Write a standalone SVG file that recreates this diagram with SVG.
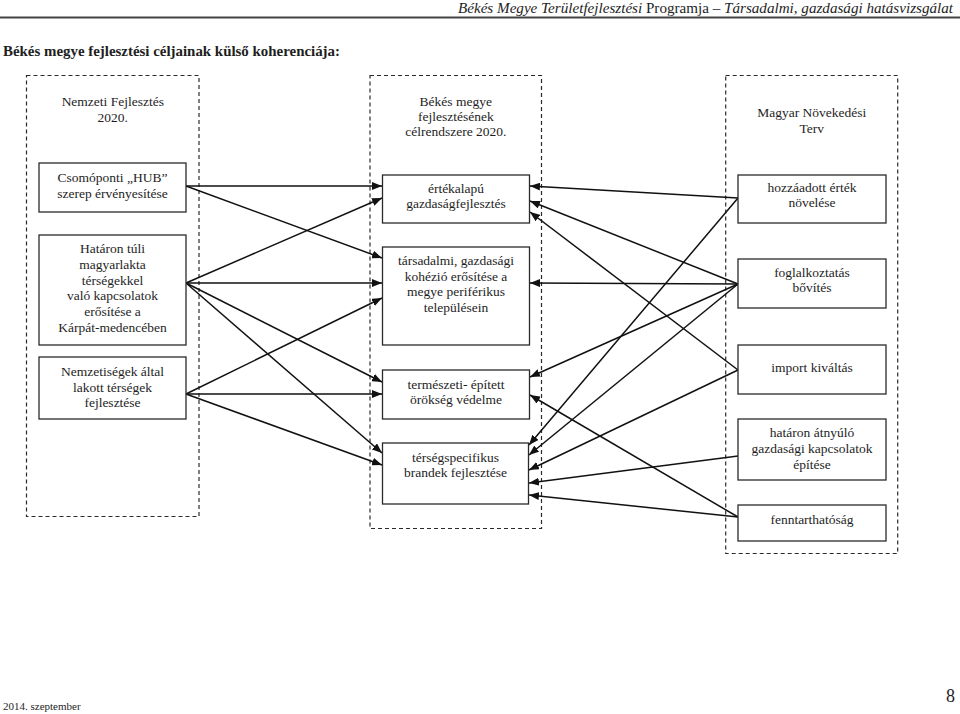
<svg xmlns="http://www.w3.org/2000/svg" width="960" height="714" viewBox="0 0 960 714" font-family="Liberation Serif, serif">
<defs>
<style>
.t{font-size:13.5px;text-anchor:middle;fill:#1e1e1e;}
.box{fill:#fff;stroke:#2a2a2a;stroke-width:1.3;}
.cont{fill:none;stroke:#2a2a2a;stroke-width:1.2;stroke-dasharray:4 3;}
.c line{stroke:#111;stroke-width:1.5;}
.c .a{marker-end:url(#arr);}
</style>
<marker id="arr" markerUnits="userSpaceOnUse" markerWidth="10" markerHeight="8" refX="10" refY="4" orient="auto">
<path d="M0,0 L10,4 L0,8 z" fill="#111"/>
</marker>
</defs>
<rect width="960" height="714" fill="#fff"/>

<g id="header" fill="#1e1e1e">
<text x="458" y="13" font-size="14.5" textLength="495" lengthAdjust="spacingAndGlyphs"><tspan font-style="italic">Békés Megye Területfejlesztési</tspan> Programja <tspan font-style="italic">– Társadalmi, gazdasági hatásvizsgálat</tspan></text>
<line x1="0" y1="17.5" x2="960" y2="17.5" stroke="#444" stroke-width="1.8"/>
<text x="3" y="56" font-size="14" font-weight="bold" textLength="337" lengthAdjust="spacingAndGlyphs">Békés megye fejlesztési céljainak külső koherenciája:</text>
</g>

<g id="containers">
<g id="cont-nfs"><rect class="cont" x="26.5" y="75.5" width="172.5" height="441"/>
<text class="t" x="112.8" y="106">Nemzeti Fejlesztés</text><text class="t" x="112.8" y="122">2020.</text></g>
<g id="cont-bekes"><rect class="cont" x="370" y="75.5" width="171.5" height="453"/>
<text class="t" x="455.8" y="105.5">Békés megye</text><text class="t" x="455.8" y="120.5">fejlesztésének</text><text class="t" x="455.8" y="135.5">célrendszere 2020.</text></g>
<g id="cont-mnt"><rect class="cont" x="725.7" y="75.5" width="172" height="478"/>
<text class="t" x="811.7" y="117">Magyar Növekedési</text><text class="t" x="811.7" y="133">Terv</text></g>
</g>

<g class="c" id="connectors">
<line class="a" x1="186" y1="186" x2="382" y2="186"/>
<line class="a" x1="186" y1="186" x2="382" y2="258"/>
<line class="a" x1="186" y1="283" x2="382" y2="198"/>
<line class="a" x1="186" y1="283" x2="382" y2="283"/>
<line class="a" x1="186" y1="283" x2="382" y2="382"/>
<line class="a" x1="186" y1="283" x2="382" y2="453"/>
<line class="a" x1="186" y1="394" x2="382" y2="298"/>
<line class="a" x1="186" y1="394" x2="382" y2="394"/>
<line class="a" x1="186" y1="394" x2="382" y2="465"/>
<line class="a" x1="738" y1="198" x2="530" y2="186"/>
<line class="a" x1="738" y1="198" x2="529" y2="445"/>
<line class="a" x1="738" y1="284" x2="530" y2="201"/>
<line class="a" x1="738" y1="284" x2="530" y2="283"/>
<line class="a" x1="738" y1="284" x2="530" y2="377"/>
<line class="a" x1="738" y1="284" x2="529" y2="455"/>
<line class="a" x1="738" y1="370" x2="530" y2="212"/>
<line class="a" x1="738" y1="370" x2="529" y2="470"/>
<line class="a" x1="738" y1="456" x2="529" y2="483"/>
<line class="a" x1="738" y1="517" x2="530" y2="395"/>
<line class="a" x1="738" y1="517" x2="529" y2="495"/>
</g>

<g id="n-hub"><rect class="box" x="39" y="163" width="147" height="49"/>
<text class="t" x="112.5" y="182">Csomóponti „HUB”</text><text class="t" x="112.5" y="197.5">szerep érvényesítése</text></g>
<g id="n-hataron"><rect class="box" x="39" y="235" width="147" height="110"/>
<text class="t" x="112.5" y="253">Határon túli</text><text class="t" x="112.5" y="268.8">magyarlakta</text><text class="t" x="112.5" y="284.6">térségekkel</text><text class="t" x="112.5" y="300.4">való kapcsolatok</text><text class="t" x="112.5" y="316.2">erősítése a</text><text class="t" x="112.5" y="332">Kárpát-medencében</text></g>
<g id="n-nemzet"><rect class="box" x="39" y="357" width="147" height="62"/>
<text class="t" x="112.5" y="376">Nemzetiségek által</text><text class="t" x="112.5" y="391.5">lakott térségek</text><text class="t" x="112.5" y="407">fejlesztése</text></g>

<g id="n-ertek"><rect class="box" x="382.5" y="175" width="147" height="48"/>
<text class="t" x="456" y="193">értékalapú</text><text class="t" x="456" y="208">gazdaságfejlesztés</text></g>
<g id="n-tarsad"><rect class="box" x="382.5" y="247" width="147" height="98"/>
<text class="t" x="456" y="265">társadalmi, gazdasági</text><text class="t" x="456" y="280.5">kohézió erősítése a</text><text class="t" x="456" y="296">megye periférikus</text><text class="t" x="456" y="311.5">településein</text></g>
<g id="n-termesz"><rect class="box" x="382.5" y="370" width="147" height="49"/>
<text class="t" x="456" y="388.5">természeti- épített</text><text class="t" x="456" y="404">örökség védelme</text></g>
<g id="n-tersegs"><rect class="box" x="382.5" y="443" width="146" height="61"/>
<text class="t" x="455.5" y="462">térségspecifikus</text><text class="t" x="455.5" y="477">brandek fejlesztése</text></g>

<g id="n-hozza"><rect class="box" x="738" y="175" width="148" height="48"/>
<text class="t" x="812" y="192">hozzáadott érték</text><text class="t" x="812" y="207">növelése</text></g>
<g id="n-fogl"><rect class="box" x="738" y="259" width="148" height="49"/>
<text class="t" x="812" y="277">foglalkoztatás</text><text class="t" x="812" y="292">bővítés</text></g>
<g id="n-import"><rect class="box" x="738" y="345" width="148" height="49"/>
<text class="t" x="812" y="372">import kiváltás</text></g>
<g id="n-hatarat"><rect class="box" x="738" y="419" width="148" height="61"/>
<text class="t" x="812" y="437">határon átnyúló</text><text class="t" x="812" y="453">gazdasági kapcsolatok</text><text class="t" x="812" y="468.5">építése</text></g>
<g id="n-fennt"><rect class="box" x="738" y="505" width="148" height="36"/>
<text class="t" x="812" y="523.5">fenntarthatóság</text></g>

<g id="footer" fill="#1e1e1e">
<text x="3" y="710" font-size="11">2014. szeptember</text>
<text x="955" y="702" font-size="18" text-anchor="end">8</text>
</g>
</svg>
